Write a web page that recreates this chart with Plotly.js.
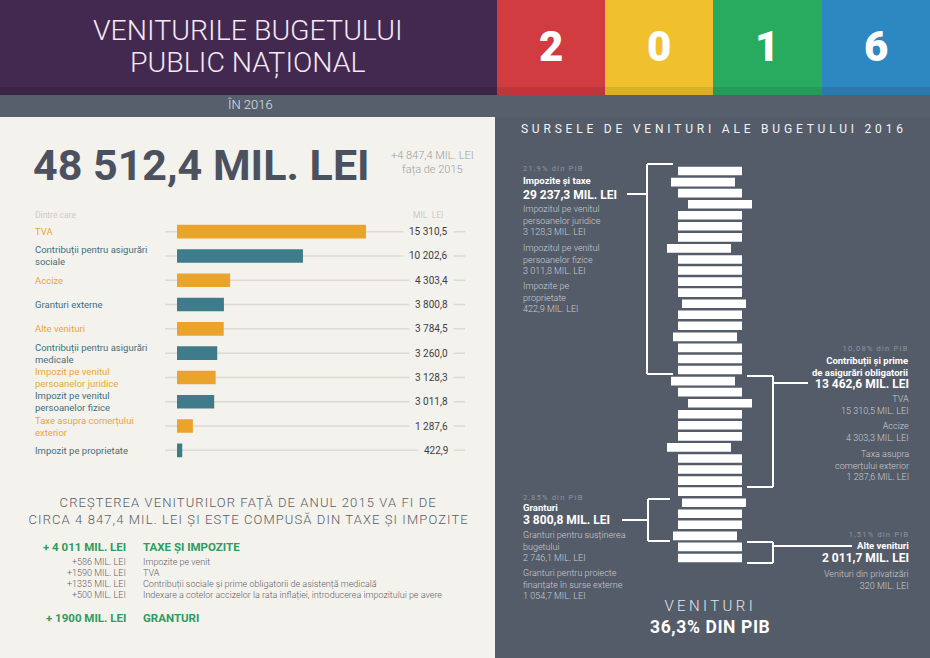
<!DOCTYPE html>
<html><head><meta charset="utf-8">
<script src="https://cdn.plot.ly/plotly-3.0.1.min.js"></script>
<style>html,body{margin:0;padding:0;background:#555c69;}#chart{width:930px;height:658px;}</style>
</head><body><div id="chart"></div>
<script>
// ---------- DATA ----------
const categories = ['TVA', 'Contribuții pentru asigurări<br>sociale', 'Accize', 'Granturi externe', 'Alte venituri',
  'Contribuții pentru asigurări<br>medicale', 'Impozit pe venitul<br>persoanelor juridice', 'Impozit pe venitul<br>persoanelor fizice',
  'Taxe asupra comerțului<br>exterior', 'Impozit pe proprietate'];
const values = [15310.5, 10202.6, 4303.4, 3800.8, 3784.5, 3260.0, 3128.3, 3011.8, 1287.6, 422.9];

const totalText = '48 512,4 MIL. LEI';
const deltaText = '+4 847,4 MIL. LEI<br>fața de 2015';
const yearDigits = ['2', '0', '1', '6'];

const growthAmounts = ['+ 4 011 MIL. LEI', '+586 MIL. LEI', '+1590 MIL. LEI', '+1335 MIL. LEI', '+500 MIL. LEI', '+ 1900 MIL. LEI'];
const growthLabels = ['TAXE ȘI IMPOZITE', 'Impozite pe venit', 'TVA', 'Contribuții sociale și prime obligatorii de asistență medicală',
  'Indexare a cotelor accizelor la rata inflației, introducerea impozitului pe avere', 'GRANTURI'];

// decorative stack of "bills" (relative horizontal shifts)
const stackOffsets = [0, -7, 0, 10, 0, 0, 0, -11, 0, 0, 0, 0, 4, 0, 0, -5, 0, 0,
                      0, -7, 0, 10, 0, 0, 0, -11, 0, 0, 0, 0, 4, 0, 0, -5, 0, 0];

// ---------- HELPERS ----------
const W = 930, H = 658;
const F = 'Roboto, "Open Sans", sans-serif';
const PX = x => x / W, PY = y => 1 - y / H;
const fmt = v => {
  const [i, d] = v.toFixed(1).split('.');
  return i.replace(/\B(?=(\d{3})+(?!\d))/g, ' ') + ',' + d;
};
const ORANGE = '#eaa42c', TEAL = '#3f7c8b';
const CREAM = '#f4f2ec', SLATE = '#555c69';

function A(x, y, text, o) {
  o = o || {};
  const font = Object.assign({family: F, size: 10, color: '#ffffff'}, o.font || {});
  const a = Object.assign({xref: 'paper', yref: 'paper', x: PX(x), y: PY(y), text: text, showarrow: false,
    xanchor: 'left', yanchor: 'middle', align: 'left'}, o);
  a.font = font;
  return a;
}
function rect(x0, y0, x1, y1, color) {
  return {type: 'rect', xref: 'paper', yref: 'paper', x0: PX(x0), x1: PX(x1), y0: PY(y1), y1: PY(y0),
    fillcolor: color, line: {width: 0}, layer: 'below'};
}
function line(x0, y0, x1, y1, color, w) {
  return {type: 'line', xref: 'paper', yref: 'paper', x0: PX(x0), x1: PX(x1), y0: PY(y0), y1: PY(y1),
    line: {color: color || '#ffffff', width: w || 2}, layer: 'above'};
}

// ---------- TRACES ----------
const barColors = values.map((v, i) => i % 2 === 0 ? ORANGE : TEAL);
const mainBars = {
  type: 'bar', orientation: 'h', x: values, y: categories, xaxis: 'x', yaxis: 'y',
  marker: {color: barColors, line: {width: 0}}, hoverinfo: 'skip', showlegend: false
};
const stackBars = {
  type: 'bar', orientation: 'h', base: stackOffsets, x: stackOffsets.map(() => 64),
  y: stackOffsets.map((v, i) => i), xaxis: 'x2', yaxis: 'y2', width: 0.78,
  marker: {color: '#ffffff', line: {width: 0}}, hoverinfo: 'skip', showlegend: false
};

// ---------- SHAPES ----------
const shapes = [
  rect(0, 117, 495, 658, CREAM),
  rect(495, 117, 930, 658, SLATE),
  rect(0, 95, 930, 117, '#585f6c'),
  rect(0, 0, 497, 95, '#43284f'),
  rect(497, 0, 605, 95, '#d13c40'),
  rect(605, 0, 713, 95, '#f1c02f'),
  rect(713, 0, 822, 95, '#28ab5f'),
  rect(822, 0, 930, 95, '#2d87c1'),
  rect(0, 87, 930, 95, 'rgba(0,0,0,0.09)')
];
// guide lines behind bars
categories.forEach(c => shapes.push({type: 'line', xref: 'paper', yref: 'y', x0: PX(165), x1: PX(465), y0: c, y1: c,
  line: {color: '#dddad3', width: 1.5}, layer: 'below'}));
// brackets
[
  [647, 164, 673, 374, 627, 194],
  [773, 376, 747, 487, 808, 383],
  [648, 499, 670, 541, 622, 520],
  [773, 542, 747, 563, 852, 546]
].forEach(b => {
  const [xv, yt, xa, yb, xt, ty] = b;
  shapes.push(line(xv, yt, xa, yt), line(xv, yt, xv, yb), line(xv, yb, xa, yb), line(xt, ty, xv, ty));
});

// ---------- ANNOTATIONS ----------
const ann = [];
ann.push(A(248, 31, 'VENITURILE BUGETULUI', {xanchor: 'center', align: 'center', font: {size: 28.5, weight: 300, color: '#f3eaf3'}}));
ann.push(A(248, 62, 'PUBLIC NAȚIONAL', {xanchor: 'center', align: 'center', font: {size: 28.5, weight: 300, color: '#f3eaf3'}}));
const digitX = [551, 659, 767, 876];
yearDigits.forEach((d, i) => ann.push(A(digitX[i], 47, d, {xanchor: 'center', font: {size: 42, weight: 900, color: '#ffffff'}})));
ann.push(A(250, 105, 'ÎN 2016', {xanchor: 'center', font: {size: 13, weight: 300, color: '#dfe1e5'}}));

ann.push(A(31, 165, totalText, {font: {size: 43, weight: 700, color: '#4b515e'}}));
ann.push(A(432, 163, deltaText, {xanchor: 'center', align: 'center', font: {size: 11, weight: 300, color: '#9a9ea6'}}));
ann.push(A(33, 215, 'Dintre care', {font: {size: 8.5, color: '#cdccc8'}}));
ann.push(A(428, 215, 'MIL. LEI', {xanchor: 'center', font: {size: 8.5, color: '#cdccc8'}}));

categories.forEach((c, i) => {
  ann.push({xref: 'paper', yref: 'y', x: PX(33), y: c, text: c, showarrow: false, xanchor: 'left', yanchor: 'middle', align: 'left',
    font: {family: F, size: 9.5, color: i % 2 === 0 ? '#eaa63a' : '#3e7080'}});
  ann.push({xref: 'paper', yref: 'y', x: PX(454), y: c, text: fmt(values[i]), showarrow: false, xanchor: 'right', yanchor: 'middle',
    bgcolor: CREAM, borderpad: 5, font: {family: F, size: 10, color: '#3c4049'}});
});

ann.push(A(248, 502, 'CREȘTEREA VENITURILOR FAȚĂ DE ANUL 2015 VA FI DE', {xanchor: 'center', align: 'center', font: {size: 13, weight: 300, color: '#595d65'}}));
ann.push(A(248, 519, 'CIRCA 4 847,4 MIL. LEI ȘI ESTE COMPUSĂ DIN TAXE ȘI IMPOZITE', {xanchor: 'center', align: 'center', font: {size: 13, weight: 300, color: '#595d65'}}));
const growthY = [547, 562, 573, 584, 595, 618];
growthAmounts.forEach((g, i) => {
  const head = (i === 0 || i === growthAmounts.length - 1);
  const f = head ? {size: 11.5, weight: 700, color: '#2f9b5f'} : {size: 9, weight: 300, color: '#5e6168'};
  ann.push(A(128, growthY[i], g, {xanchor: 'right', align: 'right', font: f}));
  ann.push(A(141, growthY[i], growthLabels[i], {font: f}));
});

// right panel
const SUB = '#c9ccd2', DIM = '#8f949d';
ann.push(A(714, 129, 'SURSELE DE VENITURI ALE BUGETULUI 2016', {xanchor: 'center', align: 'center', font: {size: 12, color: '#f2f3f5'}}));
ann.push(A(521, 169, '21,9% din PIB', {font: {size: 7.5, color: DIM}}));
ann.push(A(521, 181, 'Impozite și taxe', {font: {size: 9.5, weight: 700}}));
ann.push(A(521, 195, '29 237,3 MIL. LEI', {font: {size: 12, weight: 700}}));
ann.push(A(521, 221, 'Impozitul pe venitul<br>persoanelor juridice<br>3 128,3 MIL. LEI', {font: {size: 9, weight: 300, color: SUB}}));
ann.push(A(521, 259, 'Impozitul pe venitul<br>persoanelor fizice<br>3 011,8 MIL. LEI', {font: {size: 9, weight: 300, color: SUB}}));
ann.push(A(521, 297, 'Impozite pe<br>proprietate<br>422,9 MIL. LEI', {font: {size: 9, weight: 300, color: SUB}}));

ann.push(A(911, 348, '10,08% din PIB', {xanchor: 'right', align: 'right', font: {size: 7.5, color: DIM}}));
ann.push(A(911, 366, 'Contribuții și prime<br>de asigurări obligatorii', {xanchor: 'right', align: 'right', font: {size: 9.5, weight: 700}}));
ann.push(A(911, 384, '13 462,6 MIL. LEI', {xanchor: 'right', align: 'right', font: {size: 12, weight: 700}}));
ann.push(A(911, 405, 'TVA<br>15 310,5 MIL. LEI', {xanchor: 'right', align: 'right', font: {size: 9, weight: 300, color: SUB}}));
ann.push(A(911, 432, 'Accize<br>4 303,3 MIL. LEI', {xanchor: 'right', align: 'right', font: {size: 9, weight: 300, color: SUB}}));
ann.push(A(911, 465, 'Taxa asupra<br>comerțului exterior<br>1 287,6 MIL. LEI', {xanchor: 'right', align: 'right', font: {size: 9, weight: 300, color: SUB}}));

ann.push(A(521, 497, '2,85% din PIB', {font: {size: 7.5, color: DIM}}));
ann.push(A(521, 507, 'Granturi', {font: {size: 9.5, weight: 700}}));
ann.push(A(521, 520, '3 800,8 MIL. LEI', {font: {size: 12, weight: 700}}));
ann.push(A(521, 546, 'Granturi pentru susținerea<br>bugetului<br>2 746,1 MIL. LEI', {font: {size: 9, weight: 300, color: SUB}}));
ann.push(A(521, 584, 'Granturi pentru proiecte<br>finanțate în surse externe<br>1 054,7 MIL. LEI', {font: {size: 9, weight: 300, color: SUB}}));

ann.push(A(911, 534, '1,51% din PIB', {xanchor: 'right', align: 'right', font: {size: 7.5, color: DIM}}));
ann.push(A(911, 545, 'Alte venituri', {xanchor: 'right', align: 'right', font: {size: 9.5, weight: 700}}));
ann.push(A(911, 558, '2 011,7 MIL. LEI', {xanchor: 'right', align: 'right', font: {size: 12, weight: 700}}));
ann.push(A(911, 580, 'Venituri din privatizări<br>320 MIL. LEI', {xanchor: 'right', align: 'right', font: {size: 9, weight: 300, color: SUB}}));

ann.push(A(710, 606, 'VENITURI', {xanchor: 'center', align: 'center', font: {size: 15, weight: 300, color: '#e4e6ea'}}));
ann.push(A(710, 627, '36,3% DIN PIB', {xanchor: 'center', align: 'center', font: {size: 17.5, weight: 700, color: '#ffffff'}}));

// ---------- LAYOUT ----------
const layout = {
  width: W, height: H, margin: {l: 0, r: 0, t: 0, b: 0}, paper_bgcolor: SLATE, plot_bgcolor: 'rgba(0,0,0,0)',
  showlegend: false, bargap: 0.44,
  xaxis: {domain: [PX(177), PX(465)], range: [0, 23330], visible: false, fixedrange: true},
  yaxis: {domain: [PY(462.5), PY(219.5)], type: 'category', autorange: 'reversed', visible: false, fixedrange: true},
  xaxis2: {domain: [PX(640), PX(780)], range: [-38, 102], visible: false, fixedrange: true, anchor: 'y2'},
  yaxis2: {domain: [PY(563.5), PY(165.5)], range: [35.5, -0.5], visible: false, fixedrange: true, anchor: 'x2'},
  shapes: shapes, annotations: ann
};

// letter spacing (value, anchor kept fixed)
const spacing = {
  'SURSELE DE VENITURI ALE BUGETULUI 2016': ['3.8px', 'c'],
  'VENITURI': ['3.4px', 'c'],
  'CREȘTEREA VENITURILOR FAȚĂ DE ANUL 2015 VA FI DE': ['1.1px', 'c'],
  'CIRCA 4 847,4 MIL. LEI ȘI ESTE COMPUSĂ DIN TAXE ȘI IMPOZITE': ['1.1px', 'c'],
  '21,9% din PIB': ['1.2px', 'l'], '2,85% din PIB': ['1.2px', 'l'],
  '10,08% din PIB': ['1.2px', 'r'], '1,51% din PIB': ['1.2px', 'r'],
  '36,3% DIN PIB': ['0.6px', 'c']
};
Plotly.newPlot('chart', [mainBars, stackBars], layout, {displayModeBar: false, staticPlot: true}).then(() => {
  document.querySelectorAll('#chart .annotation-text').forEach(t => {
    const s = spacing[t.textContent];
    if (!s) return;
    const b0 = t.getBBox();
    t.style.letterSpacing = s[0];
    const b1 = t.getBBox();
    let dx = 0;
    if (s[1] === 'c') dx = (b0.x + b0.width / 2) - (b1.x + b1.width / 2);
    else if (s[1] === 'r') dx = (b0.x + b0.width) - (b1.x + b1.width);
    else dx = b0.x - b1.x;
    const tr = t.getAttribute('transform') || '';
    t.setAttribute('transform', tr + ' translate(' + dx.toFixed(2) + ',0)');
  });
});
</script></body></html>
